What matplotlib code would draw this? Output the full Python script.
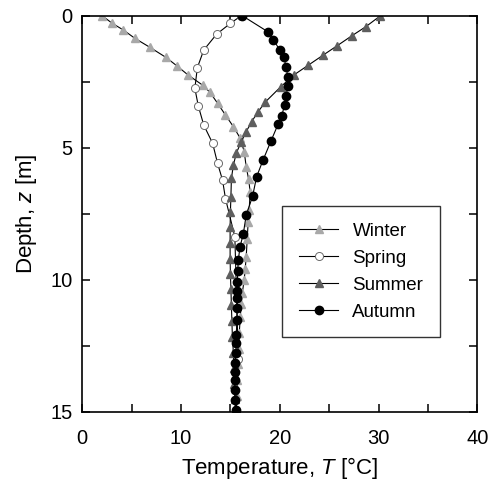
import matplotlib
matplotlib.use("Agg")
import matplotlib.pyplot as plt
from matplotlib.ticker import MultipleLocator

plt.rcParams['font.family'] = ['Liberation Sans', 'DejaVu Sans']
plt.rcParams['mathtext.fontset'] = 'custom'
plt.rcParams['mathtext.rm'] = 'Liberation Sans'
plt.rcParams['mathtext.it'] = 'Liberation Sans:italic'

# Seasonal temperature profiles (temperature in degC, depth in m)
winter_T = [2.0, 3.04, 4.15, 5.34, 6.86, 8.48, 9.62, 10.73, 12.19, 12.93, 13.71,
            14.5, 15.3, 16.0, 16.4, 16.6, 16.85, 17.0, 16.9, 16.8, 16.7, 16.6,
            16.5, 16.4, 16.2, 16.1, 16.0, 15.9, 15.85, 15.8, 15.7, 15.65, 15.6]
winter_z = [0.0, 0.29, 0.54, 0.86, 1.2, 1.58, 1.91, 2.25, 2.63, 2.9, 3.32,
            3.76, 4.2, 4.64, 5.15, 5.72, 6.2, 6.67, 7.36, 7.8, 8.47, 9.13,
            9.57, 10.0, 10.5, 10.9, 11.4, 12.0, 12.6, 13.2, 13.8, 14.4, 15.0]

spring_T = [16.1, 15.0, 13.6, 12.3, 11.65, 11.4, 11.75, 12.3, 13.2, 13.7, 14.2,
            14.5, 15.45, 15.8, 15.57]
spring_z = [0.0, 0.29, 0.70, 1.30, 1.97, 2.75, 3.42, 4.14, 4.83, 5.59, 6.22,
            6.92, 8.37, 13.0, 15.05]

summer_T = [30.2, 28.7, 27.3, 25.8, 24.4, 22.9, 21.4, 20.1, 18.5, 17.8, 17.15,
            16.6, 16.1, 15.6, 15.3, 15.1, 15.05, 15.0, 14.97, 14.97, 14.97, 15.0,
            15.05, 15.1, 15.15, 15.2, 15.3, 15.35, 15.4, 15.45, 15.5]
summer_z = [0.0, 0.42, 0.76, 1.14, 1.49, 1.87, 2.25, 2.69, 3.28, 3.64, 4.01,
            4.39, 4.77, 5.2, 5.66, 6.16, 6.86, 7.42, 8.0, 8.6, 9.2, 9.76,
            10.33, 10.96, 11.55, 12.15, 12.75, 13.35, 13.95, 14.5, 15.0]

autumn_T = [16.2, 18.8, 19.35, 20.0, 20.4, 20.65, 20.8, 20.8, 20.65, 20.5, 20.2,
            19.85, 19.1, 18.3, 17.65, 17.25, 16.6, 16.3, 15.97, 15.8, 15.74, 15.7,
            15.7, 15.7, 15.7, 15.65, 15.6, 15.6, 15.55, 15.5, 15.45, 15.45, 15.45,
            15.5, 15.55]
autumn_z = [0.0, 0.61, 0.91, 1.30, 1.58, 1.94, 2.31, 2.68, 3.03, 3.37, 3.78,
            4.09, 4.75, 5.47, 6.1, 6.83, 7.55, 8.27, 8.75, 9.25, 9.66, 10.08,
            10.42, 10.70, 11.05, 11.5, 12.1, 12.4, 12.77, 13.14, 13.48, 13.8, 14.18,
            14.53, 14.94]

fig = plt.figure(figsize=(4.89, 4.80), dpi=100)
ax = fig.add_axes([0.1683, 0.1417, 0.8077, 0.8256])

ax.plot(winter_T, winter_z, color='black', lw=0.8, marker='^', ms=5.6,
        mfc='#a8a8a8', mec='#a8a8a8', label='Winter')
ax.plot(spring_T, spring_z, color='black', lw=0.8, marker='o', ms=5.8,
        mfc='white', mec='#6a6a6a', mew=0.7, label='Spring')
ax.plot(summer_T, summer_z, color='black', lw=0.8, marker='^', ms=5.6,
        mfc='#5e5e5e', mec='#5e5e5e', label='Summer')
ax.plot(autumn_T, autumn_z, color='black', lw=0.8, marker='o', ms=6.0,
        mfc='black', mec='black', label='Autumn')

ax.set_xlim(0, 40)
ax.set_ylim(15, 0)
ax.xaxis.set_major_locator(MultipleLocator(10))
ax.xaxis.set_minor_locator(MultipleLocator(5))
ax.yaxis.set_major_locator(MultipleLocator(5))
ax.yaxis.set_minor_locator(MultipleLocator(2.5))
ax.tick_params(which='both', direction='in', top=True, right=True,
               length=5.5, width=1.1, labelsize=14.5)
ax.tick_params(axis='x', pad=12)
ax.tick_params(axis='y', pad=7)

for sp in ax.spines.values():
    sp.set_linewidth(1.2)

ax.set_xlabel(r'Temperature, $\mathit{T}$ [°C]', fontsize=16, labelpad=5)
ax.set_ylabel(r'Depth, $\mathit{z}$ [m]', fontsize=16, labelpad=8)

leg = ax.legend(loc='upper left', bbox_to_anchor=(0.506, 0.52), fontsize=13.5,
                frameon=True, fancybox=False, edgecolor='black',
                handlelength=2.1, handletextpad=0.75, labelspacing=0.52,
                borderpad=0.9, borderaxespad=0.0)
leg.get_frame().set_linewidth(1.0)

fig.savefig('out.png', dpi=100)
